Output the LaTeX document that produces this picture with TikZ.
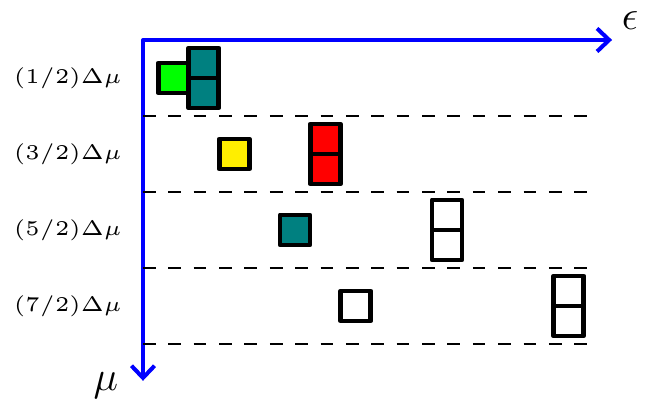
\documentclass[tikz,border=0pt]{standalone}
\usepackage{amsmath, amssymb}
\usetikzlibrary{arrows,arrows.meta,positioning}
\definecolor{tealbox}{RGB}{0,128,128}
\definecolor{greenbox}{RGB}{0,255,0}
\definecolor{yellowbox}{RGB}{255,238,0}
\definecolor{redbox}{RGB}{255,0,0}
\newcommand{\lvltext}[1]{\scalebox{1.46}{\tiny $#1$}}
\begin{document}
\begin{tikzpicture}[line join=round, x=0.3706cm, y=0.4632cm,
  cell/.style={draw, line width=1.65pt, minimum size=10.4pt, inner sep=0pt, outer sep=0pt},
  axis/.style={blue, line width=1.4pt, >={Straight Barb[length=4.2pt,width=8pt]}},
  level/.style={line width=0.5pt, dash pattern=on 4.4pt off 4.4pt},
  axlabel/.style={font=\fontsize{15}{17}\selectfont, inner sep=0pt}]
\useasboundingbox (-4.704,1.0526) rectangle (17.007,-9.605);
\coordinate (O) at (0,0);
\coordinate (E) at (15.43,0);
\coordinate (M) at (0,-8.97);
\node[axlabel] (eps) at (16.02,0.5) {$\epsilon$};
\node[axlabel] (mu)  at (-1.22,-9.1) {$\mu$};
\draw[axis,<->] (M)--(O)--(E);
\foreach \r in {2,4,6,8}
  \draw[level] (0,-\r) -- (14.8,-\r);
\node (l1) at (-2.47,-1) {\lvltext{(1/2)\Delta\mu}};
\node (l3) at (-2.47,-3) {\lvltext{(3/2)\Delta\mu}};
\node (l5) at (-2.47,-5) {\lvltext{(5/2)\Delta\mu}};
\node (l7) at (-2.47,-7) {\lvltext{(7/2)\Delta\mu}};
% level 1
\node[cell, fill=greenbox] (g1) at (1,-1) {};
\node[cell, fill=tealbox, anchor=south] (t1up) at (2,-1) {};
\node[cell, fill=tealbox, below=0pt of t1up] (t1dn) {};
% level 3
\node[cell, fill=yellowbox] (y3) at (3,-3) {};
\node[cell, fill=redbox, anchor=south] (r3up) at (6,-3) {};
\node[cell, fill=redbox, below=0pt of r3up] (r3dn) {};
% level 5
\node[cell, fill=tealbox] (t5) at (5,-5) {};
\node[cell, fill=white, anchor=south] (w5up) at (10,-5) {};
\node[cell, fill=white, below=0pt of w5up] (w5dn) {};
% level 7
\node[cell, fill=white] (w7) at (7,-7) {};
\node[cell, fill=white, anchor=south] (w7up) at (14,-7) {};
\node[cell, fill=white, below=0pt of w7up] (w7dn) {};
\end{tikzpicture}
\end{document}
